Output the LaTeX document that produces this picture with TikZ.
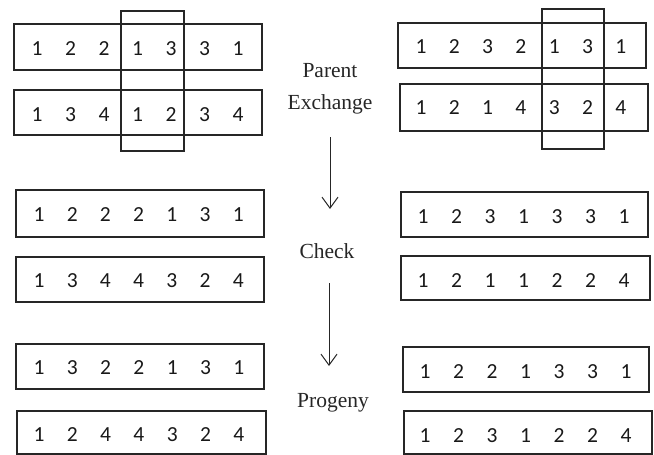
\documentclass[tikz,border=0pt]{standalone}
\usepackage{fontspec}
\setmainfont{Liberation Serif}
\newfontfamily\digfont{Carlito}
\usetikzlibrary{arrows.meta}
\tikzset{
  box/.style={draw=black!85, line width=1.1pt},
  dig/.style={inner sep=0pt, font=\digfont\fontsize{21.5}{21.5}\selectfont, text=black!90},
  lab/.style={inner sep=0pt, anchor=base, font=\fontsize{21.5}{21.5}\selectfont, text=black!85},
  arr/.style={draw=black!85, line width=1pt, -{Straight Barb[length=11pt,width=16pt,line width=1pt]}}
}
\newcommand\digrow[5]{%
  \foreach \d [count=\i from 0] in {#5}{%
    \node[dig] (#1-\i) at ({#2+#3*\i},#4) {\d};
  }%
}
\begin{document}
\begin{tikzpicture}[x=1pt,y=-1pt]
\useasboundingbox (0,0) rectangle (654,455);
% top left
\draw[box] (14,24) rectangle (262,70);
\draw[box] (14,90) rectangle (262,135);
\draw[box] (121,11) rectangle (184,151);
\digrow{lta}{37}{33.5}{49}{1,2,2,1,3,3,1}
\digrow{ltb}{37}{33.5}{115}{1,3,4,1,2,3,4}
% top right
\draw[box] (398,23) rectangle (646,68);
\draw[box] (400,84) rectangle (648,131);
\draw[box] (542,9) rectangle (604,149);
\digrow{rta}{421}{33.3}{47}{1,2,3,2,1,3,1}
\digrow{rtb}{421}{33.3}{108}{1,2,1,4,3,2,4}
% middle left
\draw[box] (16,190) rectangle (264,237);
\draw[box] (16,257) rectangle (264,302);
\digrow{lma}{39}{33.2}{215}{1,2,2,2,1,3,1}
\digrow{lmb}{39}{33.2}{281}{1,3,4,4,3,2,4}
% middle right
\draw[box] (401,192) rectangle (648,237);
\draw[box] (401,256) rectangle (650,300);
\digrow{rma}{423}{33.5}{217}{1,2,3,1,3,3,1}
\digrow{rmb}{423}{33.5}{281}{1,2,1,1,2,2,4}
% bottom left
\draw[box] (16,344) rectangle (264,389);
\draw[box] (17,411) rectangle (266,454);
\digrow{lba}{39}{33.3}{368}{1,3,2,2,1,3,1}
\digrow{lbb}{39}{33.3}{435}{1,2,4,4,3,2,4}
% bottom right
\draw[box] (403,347) rectangle (649,392);
\draw[box] (404,411) rectangle (652,454);
\digrow{rba}{425}{33.5}{372}{1,2,2,1,3,3,1}
\digrow{rbb}{425}{33.5}{436}{1,2,3,1,2,2,4}
% labels
\node[lab] (parent) at (330,77) {Parent};
\node[lab] (exch) at (330,109) {Exchange};
\node[lab] (check) at (327,258) {Check};
\node[lab] (prog) at (333,407) {Progeny};
\coordinate (a1s) at (330,137);
\coordinate (a1e) at (330,209);
\coordinate (a2s) at (329,283);
\coordinate (a2e) at (329,366);
\draw[arr] (a1s) -- (a1e);
\draw[arr] (a2s) -- (a2e);
\end{tikzpicture}
\end{document}
